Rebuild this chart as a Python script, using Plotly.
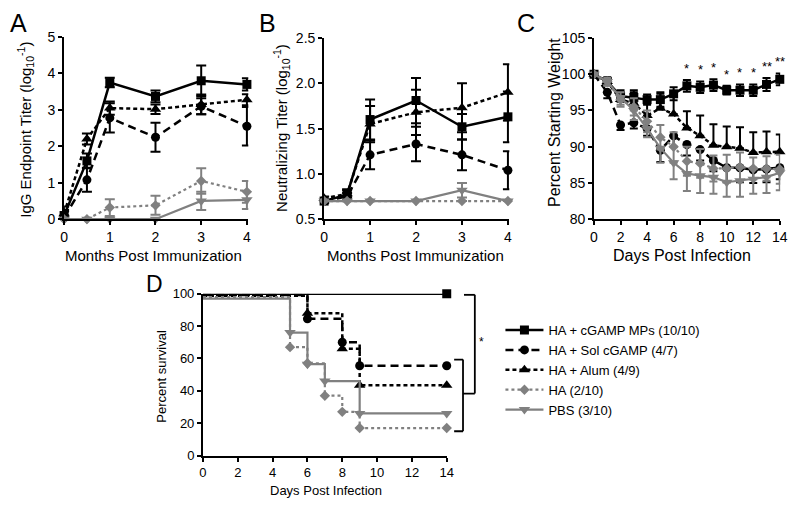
import plotly.graph_objects as go

# ---------------- data ----------------
groups = ["HA + cGAMP MPs (10/10)", "HA + Sol cGAMP (4/7)", "HA + Alum (4/9)", "HA (2/10)", "PBS (3/10)"]

months = [0, 0.5, 1, 2, 3, 4]
# Panel A: IgG endpoint titer
A_mps = [0.10, 1.60, 3.75, 3.37, 3.80, 3.70]
A_mps_err = [0.25, 0.20, 0.13, 0.16, 0.42, 0.17]
A_sol = [0.05, 1.08, 2.78, 2.25, 3.10, 2.55]
A_sol_err = [0.05, 0.33, 0.40, 0.40, 0.22, 0.53]
A_alum = [0.15, 2.20, 3.05, 3.02, 3.15, 3.28]
A_alum_err = [0.10, 0.15, 0.18, 0.13, 0.27, 0.15]
A_ha = [0.0, 0.0, 0.32, 0.38, 1.05, 0.75]
A_ha_err = [0.0, 0.0, 0.23, 0.26, 0.35, 0.30]
A_pbs = [0.0, 0.0, 0.0, 0.0, 0.50, 0.53]
A_pbs_err = [0.0, 0.0, 0.0, 0.0, 0.25, 0.25]

# Panel B: neutralizing titer
B_mps = [0.70, 0.77, 1.60, 1.81, 1.52, 1.63]
B_mps_err = [0.02, 0.06, 0.22, 0.25, 0.14, 0.28]
B_sol = [0.70, 0.75, 1.21, 1.33, 1.21, 1.04]
B_sol_err = [0.02, 0.04, 0.16, 0.19, 0.17, 0.21]
B_alum = [0.73, 0.78, 1.55, 1.68, 1.73, 1.90]
B_alum_err = [0.02, 0.04, 0.20, 0.25, 0.27, 0.31]
B_ha = [0.70, 0.70, 0.70, 0.70, 0.70, 0.70]
B_ha_err = [0, 0, 0, 0, 0, 0]
B_pbs = [0.70, 0.70, 0.70, 0.70, 0.82, 0.70]
B_pbs_err = [0, 0, 0, 0, 0.08, 0]

# Panel C: weight
days = list(range(15))
C_mps = [100, 99.0, 97.0, 96.8, 96.5, 96.5, 97.3, 98.4, 98.2, 98.5, 97.8, 97.8, 97.8, 98.6, 99.3]
C_mps_err = [0, 0.5, 0.8, 1.0, 0.7, 1.0, 0.9, 0.8, 0.8, 0.8, 0.6, 0.8, 0.8, 0.9, 0.8]
C_sol = [100, 97.5, 93.0, 93.3, 92.5, 89.5, 91.5, 90.3, 89.6, 88.1, 87.1, 87.1, 86.8, 86.9, 87.1]
C_sol_err = [0, 0.8, 0.7, 0.8, 1.0, 1.6, 1.5, 1.5, 1.5, 1.5, 2.0, 2.0, 1.8, 1.8, 1.6]
C_alum = [100, 99.0, 96.5, 96.0, 94.3, 95.3, 94.5, 92.6, 91.5, 90.2, 90.0, 89.8, 89.2, 89.3, 89.3]
C_alum_err = [0, 0.6, 1.0, 1.5, 2.0, 2.0, 3.0, 2.3, 2.8, 2.9, 2.8, 2.9, 2.8, 2.8, 2.4]
C_ha = [100, 99.0, 96.5, 95.5, 93.5, 91.3, 90.0, 88.0, 87.7, 87.0, 87.0, 87.2, 87.0, 87.0, 86.9]
C_ha_err = [0, 0.5, 1.0, 1.2, 1.5, 1.7, 2.0, 2.0, 2.0, 1.8, 1.9, 2.0, 1.5, 1.7, 2.0]
C_pbs = [100, 99.0, 96.8, 95.0, 92.5, 89.8, 87.8, 86.3, 86.0, 85.8, 85.1, 85.3, 85.5, 85.8, 86.4]
C_pbs_err = [0, 0.6, 1.0, 1.3, 1.2, 2.0, 2.3, 2.4, 2.4, 2.3, 2.0, 2.2, 2.0, 2.2, 2.4]
star_days = [7, 8, 9, 10, 11, 12, 13, 14]
star_text = ["*", "*", "*", "*", "*", "*", "**", "**"]

# Panel D: survival (event times, percent surviving)
D_mps_t = [0, 14]
D_mps_s = [100, 100]
D_sol_t = [0, 6, 8, 9, 14]
D_sol_s = [99.3, 84.5, 70, 55.5, 55.5]
D_alum_t = [0, 6, 8, 9, 14]
D_alum_s = [98.8, 88, 66, 43.5, 43.5]
D_ha_t = [0, 5, 6, 7, 8, 9, 14]
D_ha_s = [98, 67, 57, 37, 27, 17, 17]
D_pbs_t = [0, 5, 6, 7, 9, 14]
D_pbs_s = [97, 76, 56.5, 46, 26, 26]

# ---------------- styles ----------------
BLACK = "#000000"
GRAY = "#808080"
styles = [
    dict(color=BLACK, dash="solid", symbol="square", size=9, width=2.5),
    dict(color=BLACK, dash="8px,5px", symbol="circle", size=9, width=2.5),
    dict(color=BLACK, dash="4px,3px", symbol="triangle-up", size=10, width=2.5),
    dict(color=GRAY, dash="3px,3px", symbol="diamond", size=8, width=2.2),
    dict(color=GRAY, dash="solid", symbol="triangle-down", size=10, width=2.2),
]
FONT = "Liberation Sans, Arial, sans-serif"

fig = go.Figure()


def add_series(x, y, err_up, err_dn, st, xa, ya, errw=5):
    fig.add_trace(go.Scatter(
        x=x, y=y, mode="lines+markers", xaxis=xa, yaxis=ya, showlegend=False,
        line=dict(color=st["color"], dash=st["dash"], width=st["width"]),
        marker=dict(symbol=st["symbol"], size=st["size"], color=st["color"]),
        error_y=dict(type="data", symmetric=False, array=err_up, arrayminus=err_dn,
                     color=st["color"], thickness=2, width=errw),
        cliponaxis=False,
    ))


A_series = [(A_mps, A_mps_err), (A_sol, A_sol_err), (A_alum, A_alum_err), (A_ha, A_ha_err), (A_pbs, A_pbs_err)]
B_series = [(B_mps, B_mps_err), (B_sol, B_sol_err), (B_alum, B_alum_err), (B_ha, B_ha_err), (B_pbs, B_pbs_err)]
for (v, e), st in zip(A_series, styles):
    add_series(months, v, e, e, st, "x", "y")
for (v, e), st in zip(B_series, styles):
    add_series(months, v, e, e, st, "x2", "y2")

zeros = [0] * len(days)
C_series = [
    (C_mps, C_mps_err, C_mps_err),
    (C_sol, zeros, C_sol_err),
    (C_alum, C_alum_err, zeros),
    (C_ha, C_ha_err, C_ha_err),
    (C_pbs, zeros, C_pbs_err),
]
for (v, eu, ed), st in zip(C_series, styles):
    add_series(days, v, eu, ed, st, "x3", "y3", errw=4)

# significance stars in C
for d, txt in zip(star_days, star_text):
    fig.add_annotation(x=d, y=C_mps[d] + C_mps_err[d] + 1.6, xref="x3", yref="y3",
                       text=txt, showarrow=False, font=dict(family=FONT, size=13, color=BLACK))

# Panel D survival curves
D_series = [(D_mps_t, D_mps_s), (D_sol_t, D_sol_s), (D_alum_t, D_alum_s), (D_ha_t, D_ha_s), (D_pbs_t, D_pbs_s)]
for (t, s), st, name in zip(D_series, styles, groups):
    fig.add_trace(go.Scatter(
        x=t[:2], y=s[:2], mode="lines", xaxis="x4", yaxis="y4", showlegend=False,
        line=dict(color=st["color"], dash=st["dash"], width=st["width"], shape="hv"),
        cliponaxis=False, hoverinfo="skip",
    ))
    fig.add_trace(go.Scatter(
        x=t[1:], y=s[1:], mode="lines+markers", xaxis="x4", yaxis="y4", name=name,
        line=dict(color=st["color"], dash=st["dash"], width=st["width"], shape="hv"),
        marker=dict(symbol=st["symbol"], size=st["size"], color=st["color"]),
        cliponaxis=False,
    ))

# ---------------- layout ----------------
W, H = 800, 511


def px_dom_x(a, b):
    return [a / W, b / W]


def px_dom_y(top, bottom):
    return [1 - bottom / H, 1 - top / H]


def ax(size=14, **kw):
    d = dict(showline=True, linecolor=BLACK, linewidth=2, ticks="outside", ticklen=4,
             tickwidth=2, tickcolor=BLACK, showgrid=False, zeroline=False,
             tickfont=dict(family=FONT, size=size, color=BLACK), mirror=False)
    d.update(kw)
    return d


fig.update_layout(
    width=W, height=H, margin=dict(l=0, r=0, t=0, b=0),
    plot_bgcolor="white", paper_bgcolor="white",
    xaxis=ax(domain=px_dom_x(61, 248), range=[0, 4.03], dtick=1, anchor="y"),
    yaxis=ax(domain=px_dom_y(30, 218), range=[0, 5], dtick=1, anchor="x"),
    xaxis2=ax(domain=px_dom_x(325, 513), range=[0, 4.03], dtick=1, anchor="y2"),
    yaxis2=ax(domain=px_dom_y(31, 218), range=[0.5, 2.5], dtick=0.5, tickformat=".1f", anchor="x2"),
    xaxis3=ax(domain=px_dom_x(599, 788), range=[0, 14.03], dtick=2, anchor="y3"),
    yaxis3=ax(domain=px_dom_y(31, 218), range=[80, 105], dtick=5, anchor="x3"),
    xaxis4=ax(size=13, domain=px_dom_x(202, 450), range=[0, 14.03], dtick=2, anchor="y4"),
    yaxis4=ax(size=13, domain=px_dom_y(295, 462), range=[0, 100], dtick=20, anchor="x4"),
    legend=dict(x=504 / W, y=1 - 317 / H, xanchor="left", yanchor="top",
                font=dict(family=FONT, size=13, color=BLACK), bgcolor="rgba(0,0,0,0)",
                tracegroupgap=0, itemwidth=38),
    showlegend=True,
)


def label(text, x, y, size=15, angle=0):
    fig.add_annotation(x=x / W, y=1 - y / H, xref="paper", yref="paper", text=text,
                       showarrow=False, textangle=angle, xanchor="center", yanchor="middle",
                       font=dict(family=FONT, size=size, color=BLACK))


# panel letters
label("A", 15, 16, size=25)
label("B", 268, 16, size=25)
label("C", 530, 16, size=25)
label("D", 153, 285, size=23)

# axis titles
label("Months Post Immunization", 152, 256)
label("Months Post Immunization", 418, 256)
label("Days Post Infection", 688, 256, size=16)
label("Days Post Infection", 327, 498, size=13)
label("IgG Endpoint Titer (log<sub>10</sub><sup>-1</sup>)", 21, 126, angle=-90)
label("Neutralizing Titer (log<sub>10</sub><sup>-1</sup>)", 281, 124, angle=-90)
label("Percent Starting Weight", 559, 118, size=16, angle=-90)
label("Percent survival", 160, 380, size=13, angle=-90)


# comparison brackets in D
def seg(x0, y0, x1, y1):
    fig.add_shape(type="line", xref="paper", yref="y4", x0=x0 / W, x1=x1 / W, y0=y0, y1=y1,
                  line=dict(color=BLACK, width=1.8))


seg(467, 99.4, 478, 99.4)
seg(478, 99.4, 478, 38.3)
seg(466, 38.3, 478, 38.3)
seg(457, 59.3, 466, 59.3)
seg(466, 59.3, 466, 15)
seg(457, 15, 466, 15)
fig.add_annotation(x=485 / W, y=70, xref="paper", yref="y4", text="*", showarrow=False,
                   font=dict(family=FONT, size=12, color=BLACK))

fig.write_html("out.html", config={"displayModeBar": False},
               post_script="document.body.style.margin='0';document.body.style.padding='0';")
